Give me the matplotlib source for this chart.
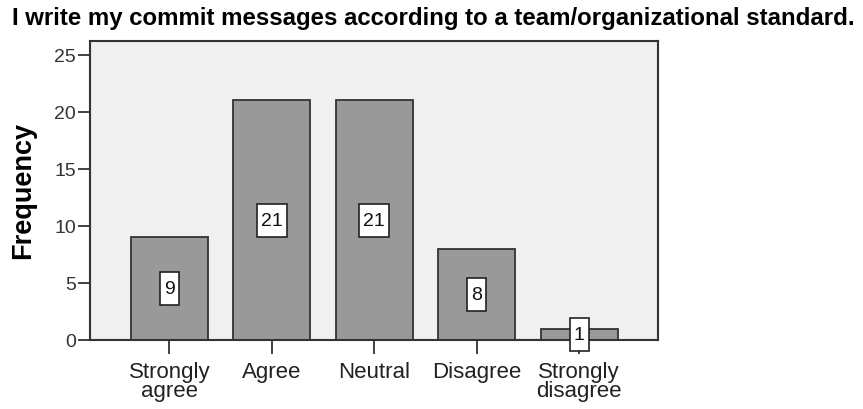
import matplotlib
matplotlib.use('Agg')
import matplotlib.pyplot as plt
from matplotlib.patches import Rectangle

categories = ['Strongly\nagree', 'Agree', 'Neutral', 'Disagree', 'Strongly\ndisagree']
counts = [9, 21, 21, 8, 1]
yticks = [0, 5, 10, 15, 20, 25]
title = 'I write my commit messages according to a team/organizational standard.'

plt.rcParams['font.family'] = ['Liberation Sans', 'DejaVu Sans']

fig = plt.figure(figsize=(8.63, 4.10), dpi=100)
ax = fig.add_axes([90/863, 1-341/410, 568/863, 299/410])
ax.set_facecolor('#f0f0f0')

x = list(range(len(counts)))
ax.bar(x, counts, width=0.75, color='#999999', edgecolor='#333333', linewidth=1.3, zorder=2)

# value boxes at the middle of each bar, width grows with number of digits
for xi, v in zip(x, counts):
    w = (8 + 11 * len(str(v))) / 102.4
    ax.add_patch(Rectangle((xi - w / 2, v / 2 - 1.45), w, 2.9, facecolor='white',
                           edgecolor='#222222', linewidth=1.2, zorder=5, clip_on=False))
    ax.text(xi, v / 2, str(v), ha='center', va='center', fontsize=14, color='#111111', zorder=6)

ax.set_xlim(-0.776, 4.77)
ax.set_ylim(0, 26.2)
ax.set_yticks(yticks)
ax.set_xticks(x)
ax.set_xticklabels(categories, fontsize=16, linespacing=0.88, color='#222222')
ax.tick_params(axis='y', length=9, width=1.3, color='#333333', labelsize=14, labelcolor='#333333', pad=1)
ax.tick_params(axis='x', length=10, width=1.3, color='#333333', pad=5)
for s in ax.spines.values():
    s.set_linewidth(1.5)
    s.set_color('#333333')

fig.text(23/863, 1-190/410, 'Frequency', rotation=90, ha='center', va='center',
         fontsize=19.5, fontweight='bold')
fig.text(12/863, 1-19/410, title, ha='left', va='center', fontsize=17.3, fontweight='bold')

fig.savefig('out.png', dpi=100)
